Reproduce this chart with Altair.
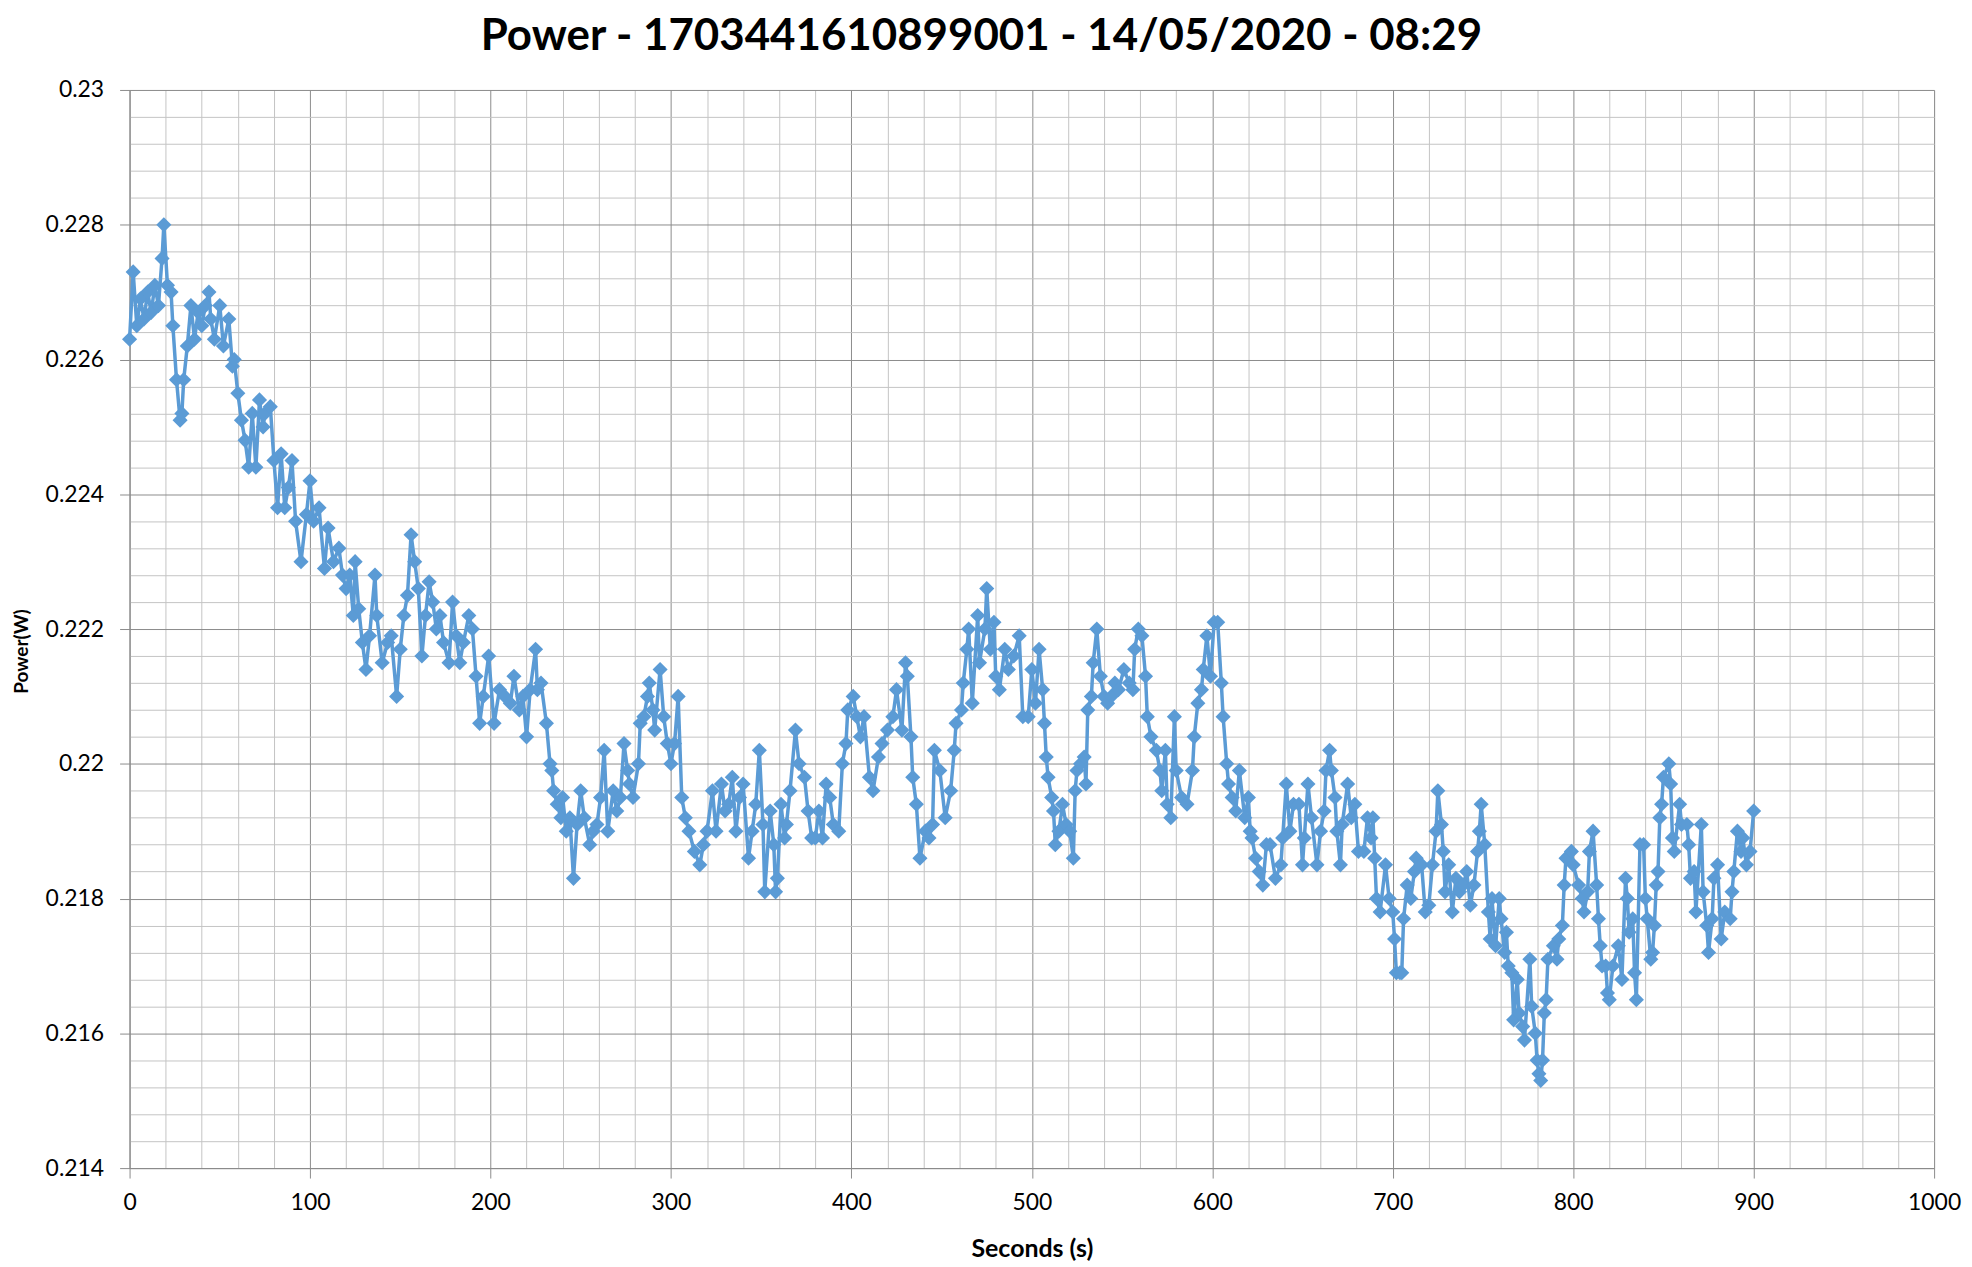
import altair as alt
import pandas as pd

# ---- data (seconds, power in W) ----
seconds_000 = [0, 2, 4, 6, 8, 10, 12, 14, 16, 18, 19, 21, 23, 24, 26, 28, 29, 30, 32, 34,
               36, 38, 40, 42, 44, 45, 47, 50, 52, 55, 57, 58, 60, 62, 64, 66, 68, 70, 72, 74,
               75, 78, 80, 82, 84, 86, 88, 90, 92, 95, 98]
power_000 = [.2263, .2273, .2265, .2269, .2266, .2270, .2267, .2271, .2268, .2275, .2280, .2271, .2270, .2265, .2257, .2251, .2252, .2257, .2262, .2268,
             .2263, .2267, .2265, .2268, .2270, .2266, .2263, .2268, .2262, .2266, .2259, .2260, .2255, .2251, .2248, .2244, .2252, .2244, .2254, .2250,
             .2252, .2253, .2245, .2238, .2246, .2238, .2241, .2245, .2236, .2230, .2237]

seconds_100 = [100, 102, 105, 108, 110, 113, 116, 118, 120, 122, 124, 125, 127, 129, 131, 133, 136, 137, 140, 143,
               145, 148, 150, 152, 154, 156, 158, 160, 162, 164, 166, 168, 170, 172, 174, 177, 179, 181, 183, 185,
               188, 190, 192, 194, 196, 199]
power_100 = [.2242, .2236, .2238, .2229, .2235, .2230, .2232, .2228, .2226, .2228, .2222, .2230, .2223, .2218, .2214, .2219, .2228, .2222, .2215, .2218,
             .2219, .2210, .2217, .2222, .2225, .2234, .2230, .2226, .2216, .2222, .2227, .2224, .2220, .2222, .2218, .2215, .2224, .2219, .2215, .2218,
             .2222, .2220, .2213, .2206, .2210, .2216]

seconds_200 = [202, 205, 208, 211, 213, 216, 218, 220, 222, 225, 226, 228, 231, 233, 234, 235, 237, 239, 240, 242,
               244, 246, 248, 250, 252, 255, 257, 259, 261, 263, 265, 268, 270, 272, 274, 276, 277, 279, 282, 283,
               285, 287, 288, 290, 291, 294, 296, 298]
power_200 = [.2206, .2211, .2210, .2209, .2213, .2208, .2210, .2204, .2211, .2217, .2211, .2212, .2206, .2200, .2199, .2196, .2194, .2192, .2195, .2190,
             .2192, .2183, .2191, .2196, .2192, .2188, .2190, .2191, .2195, .2202, .2190, .2196, .2193, .2195, .2203, .2199, .2197, .2195, .2200, .2206,
             .2207, .2210, .2212, .2208, .2205, .2214, .2207, .2203]

seconds_300 = [300, 302, 304, 306, 308, 310, 313, 316, 318, 320, 323, 325, 328, 330, 332, 334, 336, 338, 340, 343,
               345, 347, 349, 351, 352, 355, 357, 358, 359, 361, 363, 364, 366, 369, 371, 374, 376, 378, 380, 382,
               384, 386, 388, 390, 393, 395, 397, 398]
power_300 = [.2200, .2203, .2210, .2195, .2192, .2190, .2187, .2185, .2188, .2190, .2196, .2190, .2197, .2193, .2194, .2198, .2190, .2195, .2197, .2186,
             .2190, .2194, .2202, .2191, .2181, .2193, .2188, .2181, .2183, .2194, .2189, .2191, .2196, .2205, .2200, .2198, .2193, .2189, .2189, .2193,
             .2189, .2197, .2195, .2191, .2190, .2200, .2203, .2208]

seconds_400 = [401, 403, 405, 407, 410, 412, 415, 417, 420, 423, 425, 428, 430, 431, 433, 434, 436, 438, 441, 443,
               445, 446, 449, 452, 455, 457, 458, 461, 462, 464, 465, 467, 470, 471, 474, 475, 477, 479, 480, 482,
               485, 487, 490, 493, 495, 498]
power_400 = [.2210, .2207, .2204, .2207, .2198, .2196, .2201, .2203, .2205, .2207, .2211, .2205, .2215, .2213, .2204, .2198, .2194, .2186, .2190, .2189,
             .2191, .2202, .2199, .2192, .2196, .2202, .2206, .2208, .2212, .2217, .2220, .2209, .2222, .2215, .2220, .2226, .2217, .2221, .2213, .2211,
             .2217, .2214, .2216, .2219, .2207, .2207]

seconds_500 = [500, 502, 504, 506, 507, 508, 509, 511, 512, 513, 515, 517, 519, 521, 523, 524, 525, 527, 529, 530,
               531, 533, 534, 536, 538, 540, 542, 544, 546, 548, 551, 554, 556, 557, 559, 561, 563, 564, 566, 569,
               571, 572, 574, 575, 577, 579, 580, 583, 586, 589, 590, 592, 594, 595, 597, 599]
power_500 = [.2214, .2209, .2217, .2211, .2206, .2201, .2198, .2195, .2193, .2188, .2190, .2194, .2191, .2190, .2186, .2196, .2199, .2200, .2201, .2197,
             .2208, .2210, .2215, .2220, .2213, .2210, .2209, .2210, .2212, .2211, .2214, .2212, .2211, .2217, .2220, .2219, .2213, .2207, .2204, .2202,
             .2199, .2196, .2202, .2194, .2192, .2207, .2199, .2195, .2194, .2199, .2204, .2209, .2211, .2214, .2219, .2213]

seconds_600 = [601, 603, 605, 606, 608, 609, 611, 613, 615, 618, 620, 621, 622, 624, 626, 628, 630, 632, 635, 638,
               639, 641, 643, 645, 648, 650, 651, 653, 655, 658, 660, 662, 663, 665, 666, 668, 669, 671, 672, 675,
               677, 679, 681, 684, 686, 688, 689, 690, 691, 693, 696, 698]
power_600 = [.2221, .2221, .2212, .2207, .2200, .2197, .2195, .2193, .2199, .2192, .2195, .2190, .2189, .2186, .2184, .2182, .2188, .2188, .2183, .2185,
             .2189, .2197, .2190, .2194, .2194, .2185, .2189, .2197, .2192, .2185, .2190, .2193, .2199, .2202, .2199, .2195, .2190, .2185, .2191, .2197,
             .2192, .2194, .2187, .2187, .2192, .2189, .2192, .2186, .2180, .2178, .2185, .2180]

seconds_700 = [700, 701, 702, 704, 705, 706, 708, 710, 712, 713, 716, 718, 720, 722, 724, 725, 727, 728, 729, 731,
               733, 735, 737, 739, 741, 743, 745, 747, 748, 749, 751, 753, 754, 755, 757, 759, 760, 762, 763, 764,
               766, 767, 769, 770, 772, 773, 776, 777, 779, 780, 781, 782, 783, 784, 785, 786, 789, 791, 792, 794,
               795, 796, 799]
power_700 = [.2178, .2174, .2169, .2169, .2169, .2177, .2182, .2180, .2184, .2186, .2185, .2178, .2179, .2185, .2190, .2196, .2191, .2187, .2181, .2185,
             .2178, .2183, .2181, .2182, .2184, .2179, .2182, .2187, .2190, .2194, .2188, .2178, .2174, .2180, .2173, .2180, .2177, .2172, .2175, .2170,
             .2169, .2162, .2168, .2163, .2161, .2159, .2171, .2164, .2160, .2156, .2154, .2153, .2156, .2163, .2165, .2171, .2173, .2171, .2174, .2176,
             .2182, .2186, .2187]

seconds_800 = [800, 803, 805, 806, 808, 809, 811, 813, 814, 815, 816, 818, 819, 820, 822, 825, 827, 829, 830, 831,
               833, 834, 835, 837, 839, 840, 841, 843, 844, 845, 846, 847, 848, 849, 850, 853, 854, 855, 856, 859,
               860, 863, 864, 865, 867, 868, 871, 872, 874, 875, 877, 878, 880, 882, 884, 887, 888, 889, 891, 893,
               894, 896, 898, 900]
power_800 = [.2185, .2182, .2180, .2178, .2181, .2187, .2190, .2182, .2177, .2173, .2170, .2170, .2166, .2165, .2170, .2173, .2168, .2183, .2180, .2175,
             .2177, .2169, .2165, .2188, .2188, .2180, .2177, .2171, .2172, .2176, .2182, .2184, .2192, .2194, .2198, .2200, .2197, .2189, .2187, .2194,
             .2191, .2191, .2188, .2183, .2184, .2178, .2191, .2181, .2176, .2172, .2177, .2183, .2185, .2174, .2178, .2177, .2181, .2184, .2190, .2187,
             .2189, .2185, .2187, .2193]

# ---- axis ticks ----
x_major = [0, 100, 200, 300, 400, 500, 600, 700, 800, 900, 1000]
y_major = [0.214, 0.216, 0.218, 0.22, 0.222, 0.224, 0.226, 0.228, 0.23]
x_minor = [v for v in range(0, 1001, 20) if v % 100 != 0]
y_minor = [round(0.214 + 0.0004 * i, 4) for i in range(41) if i % 5 != 0]

seconds = (seconds_000 + seconds_100 + seconds_200 + seconds_300 + seconds_400 +
           seconds_500 + seconds_600 + seconds_700 + seconds_800)
power = (power_000 + power_100 + power_200 + power_300 + power_400 +
         power_500 + power_600 + power_700 + power_800)
assert len(seconds) == len(power)
df = pd.DataFrame({"Seconds": seconds, "Power": power})

FONT = "Lato"
BLUE = "#5B9BD5"
MAJOR = "#8c8c8c"
MINOR = "#c4c4c4"

xs = alt.Scale(domain=[0, 1000], nice=False, zero=False)
ys = alt.Scale(domain=[0.214, 0.23], nice=False, zero=False)

minor = alt.Chart(df).mark_line(strokeOpacity=0).encode(
    x=alt.X("Seconds:Q", scale=xs, axis=alt.Axis(
        values=x_minor, grid=True, gridColor=MINOR, gridWidth=1, labels=False,
        ticks=False, domain=False, title=None, orient="bottom")),
    y=alt.Y("Power:Q", scale=ys, axis=alt.Axis(
        values=y_minor, grid=True, gridColor=MINOR, gridWidth=1, labels=False,
        ticks=False, domain=False, title=None, orient="left")),
)

main = alt.Chart(df).mark_line(
    color=BLUE, strokeWidth=3.5,
    point=alt.OverlayMarkDef(shape="diamond", size=230, filled=True, color=BLUE, opacity=1),
).encode(
    x=alt.X("Seconds:Q", scale=xs, axis=alt.Axis(
        values=x_major, format="d", grid=True, gridColor=MAJOR, gridWidth=1,
        domainColor=MAJOR, tickColor=MAJOR, tickSize=10, labelPadding=14,
        labelFlush=False,
        labelFont=FONT, labelFontSize=23, labelColor="#000000",
        title="Seconds (s)", titleFont=FONT, titleFontSize=25, titleFontWeight="bold",
        titleColor="#000000", titlePadding=22, orient="bottom")),
    y=alt.Y("Power:Q", scale=ys, axis=alt.Axis(
        values=y_major, format=".3~f", grid=True, gridColor=MAJOR, gridWidth=1,
        domainColor=MAJOR, tickColor=MAJOR, tickSize=10, labelPadding=16,
        labelFont=FONT, labelFontSize=23, labelColor="#000000",
        title="Power(W)", titleFont=FONT, titleFontSize=19, titleFontWeight="bold",
        titleColor="#000000", titlePadding=14, titleY=563, orient="left")),
)

chart = alt.layer(minor, main).resolve_axis(x="independent", y="independent").properties(
    width=1811,
    height=1082,
    title=alt.TitleParams(
        "Power - 1703441610899001 - 14/05/2020 - 08:29",
        font=FONT, fontSize=44, fontWeight="bold", color="#000000",
        anchor="middle", frame="bounds", offset=20, dx=-5,
    ),
    autosize=alt.AutoSizeParams(type="none"),
    padding={"left": 122, "top": 80, "right": 30, "bottom": 96},
).configure_view(stroke=None).configure(background="white")

chart.save("out.html", embed_options={"renderer": "svg", "actions": False})
